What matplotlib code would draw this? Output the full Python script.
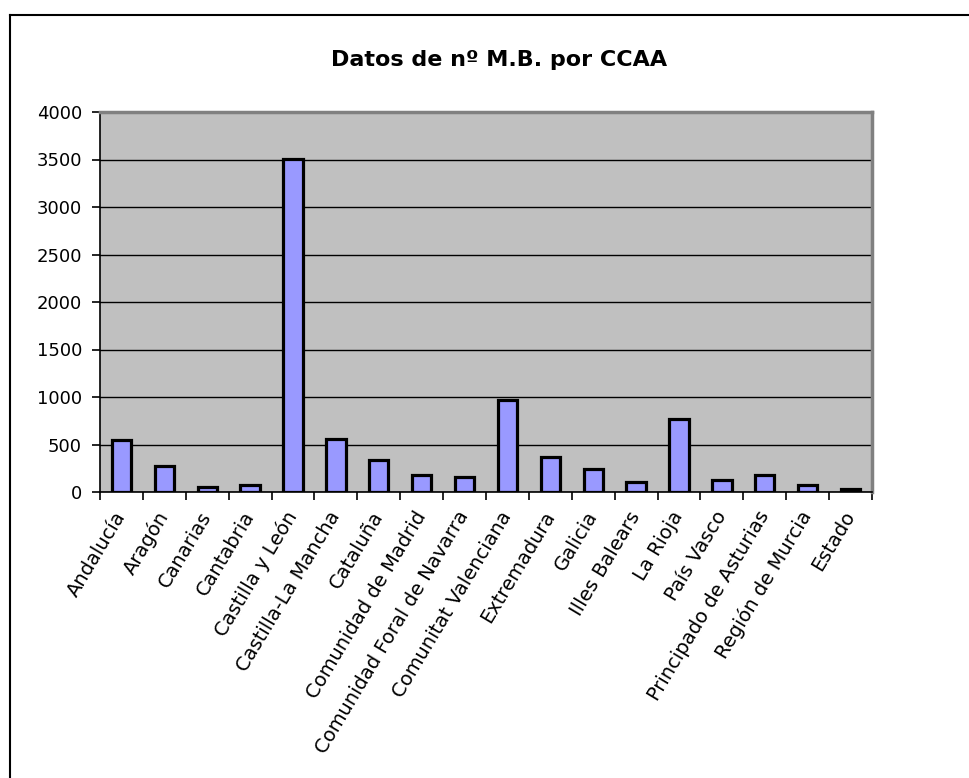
import matplotlib
matplotlib.use("Agg")
import matplotlib.pyplot as plt
from matplotlib.lines import Line2D
from matplotlib.ticker import FixedLocator, NullFormatter

plt.rcParams['font.family'] = ['DejaVu Sans']

comunidades = [
    "Andalucía", "Aragón", "Canarias", "Cantabria", "Castilla y León",
    "Castilla-La Mancha", "Cataluña", "Comunidad de Madrid",
    "Comunidad Foral de Navarra", "Comunitat Valenciana", "Extremadura",
    "Galicia", "Illes Balears", "La Rioja", "País Vasco",
    "Principado de Asturias", "Región de Murcia", "Estado",
]
num_mb = [550, 270, 55, 75, 3510, 560, 340, 180, 160, 970, 370,
          240, 110, 770, 130, 180, 75, 28]
y_ticks = [0, 500, 1000, 1500, 2000, 2500, 3000, 3500, 4000]
titulo = "Datos de nº M.B. por CCAA"

W, H = 970, 778
fig = plt.figure(figsize=(W / 100, H / 100), dpi=100)
fig.patch.set_facecolor("white")

# chart-area frame (top and left edges)
fig.add_artist(Line2D([10 / W, 1.0], [1 - 15 / H, 1 - 15 / H],
                      transform=fig.transFigure, color="black", lw=1.5))
fig.add_artist(Line2D([10 / W, 10 / W], [0.0, 1 - 15 / H],
                      transform=fig.transFigure, color="black", lw=1.5))

left, right, top, bottom = 100 / W, 872 / W, 1 - 112 / H, 1 - 492 / H
ax = fig.add_axes([left, bottom, right - left, top - bottom])
ax.set_facecolor("#C0C0C0")

x = list(range(len(comunidades)))
ax.set_axisbelow(True)
ax.yaxis.grid(True, color="black", lw=1.0)
ax.bar(x, num_mb, width=0.45, color="#9999FF", edgecolor="black",
       linewidth=2.3, zorder=3)

ax.set_xlim(-0.5, len(comunidades) - 0.5)
ax.set_ylim(0, 4000)
ax.set_yticks(y_ticks)
ax.set_yticklabels([str(v) for v in y_ticks], fontsize=13)
ax.tick_params(axis="y", direction="out", length=6, width=1.2, pad=7)

# category ticks sit between bars, labels at the bar centres
ax.xaxis.set_major_locator(FixedLocator(x))
ax.set_xticklabels(comunidades, fontsize=14, rotation=59,
                   ha="right", va="center", rotation_mode="anchor")
ax.tick_params(axis="x", which="major", length=0, pad=15)
ax.xaxis.set_minor_locator(FixedLocator([i - 0.5 for i in range(len(comunidades) + 1)]))
ax.xaxis.set_minor_formatter(NullFormatter())
ax.tick_params(axis="x", which="minor", direction="out", length=6, width=1.2)

for side in ("top", "right"):
    ax.spines[side].set_color("#808080")
    ax.spines[side].set_linewidth(2.5)
for side in ("left", "bottom"):
    ax.spines[side].set_color("black")
    ax.spines[side].set_linewidth(1.2)

fig.text(499 / W, 1 - 60 / H, titulo, ha="center", va="center",
         fontsize=16, fontweight="bold")

fig.savefig("out.png", dpi=100)
